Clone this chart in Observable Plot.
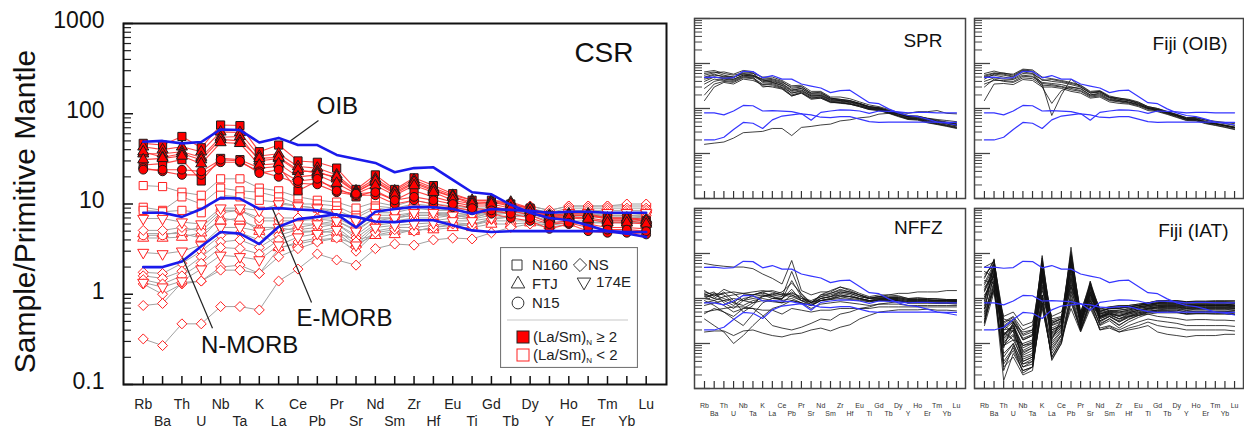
<!DOCTYPE html>
<html><head><meta charset="utf-8">
<script src="https://cdn.jsdelivr.net/npm/d3@7"></script>
<script src="https://cdn.jsdelivr.net/npm/@observablehq/plot@0.6"></script>
<style>
body{margin:0;background:#fff;font-family:"Liberation Sans",Arial,sans-serif;}
#wrap{position:relative;width:1244px;height:433px;overflow:hidden;background:#fff;}
#wrap > svg, #wrap > div{position:absolute;}
</style></head><body><div id="wrap"></div>
<script>
// ---------- DATA ----------
const elements = ["Rb","Ba","Th","U","Nb","Ta","K","La","Ce","Pb","Pr","Sr","Nd","Sm","Zr","Hf","Eu","Ti","Gd","Tb","Dy","Y","Ho","Er","Tm","Yb","Lu"];
const yTickValues = [0.1, 1, 10, 100, 1000];
const yTickLabels = ["0.1", "1", "10", "100", "1000"];

// reference patterns (primitive-mantle normalised)
const oib   = [49,50,47,48.6,67,66,48,54,45,45,35,31.5,28.5,22.5,25,25.5,18.5,13.5,12.8,9.8,8.0,7.0,6.6,5.8,5.0,4.7,4.3];
const emorb = [8.0,8.0,7.2,8.8,11.7,11.5,8.8,9.0,8.7,8.5,7.6,7.2,6.4,6.3,6.6,6.6,5.8,5.1,4.9,5.0,5.0,5.0,5.0,5.0,5.0,4.9,4.9];
const nmorb = [2.0,2.0,2.3,3.4,4.9,4.7,3.6,5.6,6.8,7.2,7.7,5.5,8.2,8.8,9.3,9.2,8.8,7.8,8.8,8.6,8.4,8.0,8.2,8.2,8.0,8.0,8.0];

// CSR samples, (La/Sm)N >= 2
const csrHigh = [
 {site:"N160", v:[47,45,56,42,75,74,38,45,30,29,25,14.5,21,14.5,19.5,16,13,11,11,10,9,7.5,7.5,7.5,7,7,6.5]},
 {site:"FTJ",  v:[43,40,43,38,63,62,34,36,26,25,21,14,19,14,18.5,15,12.5,11,11,10.5,9,7.5,7.8,7.8,7,7,6.8]},
 {site:"FTJ",  v:[36,36,38,33,55,56,30,32,23,23,19,13.5,17.5,13,17,14,12,10,10.5,9.5,8.5,7,7.2,7,6.5,6.5,6.2]},
 {site:"FTJ",  v:[38,33,36,31,52,50,32,33,24,22,20,13.5,18,13.5,17.5,14.5,12,10.5,10.5,10,8.8,7.2,7.5,7.5,6.8,6.8,6.5]},
 {site:"FTJ",  v:[31,32,34,28,48,47,27,28,20,21,17,13,16,12.5,16,13.5,11,10,10,9,8,6.8,7,6.8,6.2,6.2,6]},
 {site:"N160", v:[27,28,31,18,32,31,25,26,14,18,15,12,14,11,14,12,10.5,9.5,9.5,8.5,7.5,6.2,6.5,6,5.5,5.5,5.3]},
 {site:"N15",  v:[25,23,21,21,29,29,23,20,17,16.5,13.5,12.5,12.5,10,11,10,9.2,8.5,7.8,7,6.5,5.3,6,5,4.8,4.8,4.6]},
 {site:"N15",  v:[24,24,24,23,31,30,22,24,18,19,14,13,13.5,11,12,11,10,9,8.5,7.8,7,6,6.2,5.5,5.2,5.2,5]}
];
// CSR samples, (La/Sm)N < 2
const csrLow = [
 {site:"N160", v:[16,15.6,13.5,12.5,19,19,15,14,12,11,10.5,9,10.5,9.5,11,10,9.5,9,9,8.5,8.5,7.5,7.8,7.8,7.5,7.5,7.2]},
 {site:"N160", v:[9.2,8.5,12,10,15,14,13.5,12,10,10,9.5,7.5,9.5,9,10,9.5,9,8.5,8.5,8.5,8.5,7.2,7.5,7.5,7.2,7.2,7]},
 {site:"N160", v:[8.5,8.2,8.5,8,12.5,12,11,10.5,9.5,9,8.5,7,9,8.5,9.5,9,8.5,8,8,8,8,7,7.2,7.2,7,7,6.8]},
 {site:"174E", v:[6.9,6.9,6.3,6,9,9,8.5,10,9.5,9,8,6.5,8,8,9,8.5,8.5,8,8.5,8.5,8.5,7.5,8,8,8,8,7.8]},
 {site:"NS",   v:[5.1,5.1,5.5,5,8,8.5,7,7,7,7,7,5.5,7.5,7.5,8,8,8,7.5,8.5,9,9.5,8.5,9.5,9.5,9.5,9.5,9.5]},
 {site:"FTJ",  v:[4.7,4.7,4.7,4.2,7,6.5,5.5,5.5,5,5,4.8,4,4.5,5,5,5.5,5.8,5.8,6.5,6.5,6.5,6,6.5,6.5,6.5,6.5,6.5]},
 {site:"174E", v:[2.9,2.8,3.0,3.5,5.5,5.5,5,5.5,6,6,6.5,5,7,7,8,8,7.5,7.5,8,8,8.5,7.5,8,8,8,8,7.5]},
 {site:"NS",   v:[1.75,1.7,2.2,3.0,4.5,4.8,4,5,5.5,6,6,4.5,6.5,7,7.5,7.5,8,7.5,8.5,9,9.5,8.5,9.5,9.5,9.5,10,10]},
 {site:"NS",   v:[1.6,1.5,1.8,2.6,3.8,4,3.3,4.5,5.2,5.5,6,4.2,6,6.5,7,7,7.5,7,8,8.5,9,8,9,9,9,9,9]},
 {site:"NS",   v:[1.45,1.3,1.6,2.2,3.3,3.2,2.8,4,4.8,5,5.5,3.8,5.8,6.2,6.5,6.5,7,6.8,7.5,8,8.5,7.5,8.5,8.5,8.5,8.5,8.5]},
 {site:"174E", v:[1.35,1.2,1.4,1.9,2.7,2.6,2.4,3.5,4.3,4.7,5.2,3.5,5.5,5.8,6,6.2,6.5,6.5,7,7.5,8,7,8,8,8,8,8]},
 {site:"NS",   v:[1.3,1.0,1.3,1.4,2.0,2.1,1.7,3.2,3.8,4.2,4.8,3.3,5,5.5,5.5,5.8,6.2,6,6.8,7.2,7.5,6.5,7.5,7.5,7.5,7.5,7.5]},
 {site:"NS",   v:[0.32,0.27,0.47,0.47,0.73,0.73,0.67,1.4,1.9,2.8,2.4,2.1,3.2,3.6,3.5,4.0,4.2,4.1,4.8,5.5,6,5.5,6,6.2,6.2,6.2,6.2]},
 {site:"NS",   v:[0.75,0.79,1.35,1.4,1.85,1.85,1.7,2.6,3.2,3.8,4.2,3.0,4.8,5.2,5,5.5,6,5.8,6.8,7.2,7.8,6.8,7.8,8,8,8,8]},
 {site:"FTJ",  v:[4.2,4.2,4.3,4.8,6.5,7,5,3.3,3.6,4,4.2,3.6,4.5,4.6,5.2,5.2,5.5,5.5,6,6,6.2,5.8,6.2,6.2,6.2,6.2,6.2]},
 {site:"N15",  v:[4.5,4.5,5,5.5,8.5,8.5,6.5,6.5,6.5,6.8,6.5,5.2,7,7,7.5,7.5,7.5,7,8,8,8,7,7.5,7.5,7.5,7.5,7.2]}
];

// comparison fields
const spr = [
 [65,70,60,55,62,60,50,50,42,32,33,24,24,18,18,16.5,14,12,11,9.5,8.2,7,6.8,6,5.5,5,4.6],
 [55,62,65,58,70,66,48,46,40,28,30,22,22,17,16,15,13,11,10.5,9,7.8,6.6,6.5,5.7,5.2,4.8,4.4],
 [48,55,52,50,60,55,42,42,36,26,28,20,20,16,15,14,12.5,10.5,10,8.6,7.4,6.3,6.2,5.4,5,4.6,4.2],
 [40,50,48,45,55,52,40,38,33,24,26,19,19,15,14.5,13.5,12,10,9.5,8.2,7,6,5.9,5.1,4.7,4.3,3.9],
 [35,45,42,40,50,48,35,36,30,22,24,18,18,14.5,14,13,11.5,9.8,9.2,8,6.8,5.8,5.7,4.9,4.5,4.1,3.7],
 [15,30,38,35,45,42,34,34,29,20,23,17,17,14,13,12.5,11,9.5,9,7.8,6.6,5.7,5.5,4.8,4.4,4,3.6],
 [28,40,45,42,52,50,30,32,28,19,22,16,17,13.5,13.5,12.5,11,9.5,9.2,8,6.9,5.9,5.8,5.1,4.6,4.2,3.8],
 [60,65,55,50,58,55,45,44,38,30,31,22,23,17,16,15,13,11,10.2,8.8,7.6,6.5,6.4,5.6,5.1,4.7,4.3],
 [50,58,50,48,66,62,38,40,35,25,28,21,21,16.5,15.5,14.5,12.8,11,10.4,9,7.8,6.7,6.6,5.9,5.3,4.9,4.5],
 [20,35,40,38,48,46,32,30,27,19,22,17,18,14,13.5,12.5,11.5,10,9.8,8.6,7.6,6.6,6.7,6.1,5.7,5.4,5.1],
 [45,50,46,44,55,53,44,38,32,22,25,19,19.5,15.5,15,14,12.5,10.5,9.8,8.4,7.2,6.1,6,5.3,4.9,4.5,4.1],
 [1.6,1.7,1.8,2.2,2.9,3.0,3.1,3.6,3.6,2.5,3.8,4.0,4.3,4.5,5.3,5.6,6.2,6.5,7.5,7.8,8.2,7.8,8.5,8.5,9.0,7.8,7.6]
];
const fijiOib = [
 [55,62,58,52,70,65,35,7,20,45,30,22,24,18,16,15,13,10.5,9.5,8,7,5.8,5.8,5,4.6,4.2,3.8],
 [45,58,55,50,65,60,30,13,25,30,28,20,22,17,15,14,12.5,10,9,7.8,6.8,5.7,5.6,4.9,4.5,4.1,3.7],
 [60,68,60,58,75,72,50,46,42,38,33,24,25,19,17,16,14,11,10,8.5,7.2,6,6,5.2,4.7,4.3,3.9],
 [50,55,50,46,60,58,44,40,38,34,30,22,23,17.5,16,15,13,10.5,9.5,8.2,7,5.9,5.8,5,4.6,4.2,3.8],
 [40,48,45,44,55,52,38,36,34,30,27,20,21,16,15,14,12,10,9.2,8,6.8,5.8,5.7,4.9,4.5,4.1,3.7],
 [30,45,40,38,48,46,33,32,30,26,24,18,19,15,14,13,11.5,9.5,8.8,7.6,6.5,5.5,5.4,4.7,4.3,3.9,3.5],
 [15,35,36,34,44,42,30,30,28,24,22,17,18,14,13,12.5,11,9,8.5,7.4,6.3,5.4,5.3,4.6,4.2,3.8,3.4],
 [52,60,62,55,72,68,42,44,40,36,32,23,24,18,17,15.5,13.5,11,10,8.6,7.4,6.2,6.2,5.5,5,4.6,4.2],
 [35,42,42,40,52,50,36,34,31,28,25,19,20,15.5,14.5,13.5,12,10,9.5,8.4,7.3,6.3,6.3,5.6,5.2,4.9,4.6]
];
const nffz = [
 [60,55,52,50,50,46,35,28,21,70,15,12,14,14,18,16,13,11,12,12,11.5,10,10.5,10,10,9.5,9.5],
 [14,12,10,8,12,12,13,12,11,40,12,8,12,13,15,14,12,10,11,11,11,10,10,10,9.5,9.5,9.5],
 [12,14,8,6,9,10,11,12,14,22,13,8,12,15,18,15,12,10.5,11,10.5,10.5,9.5,9.5,9.5,9,9,9],
 [15,11,16,13,9,12,14,11,10,14,10,9,11,12,14,13,11,10,10,10,10,9,9,9,9,9,8.5],
 [10,13,12,8,7,9,10,9,8,12,9,7.5,10,11,13,12,10,9,9.5,9.5,9.5,8.5,8.5,8.5,8.5,8.5,8.5],
 [8,9,7,5,6,8,11,13,12,11,9,8.5,9,10,11,11,10,9,9,9,9,8,8,8,8,8,8],
 [4.6,6,5,3.5,2.5,4.5,8,10,10,16,9,7,9,10,12,11,10,9,10,10,10,9,9,9,9,9,9],
 [12,10,9,7,10,11,12,11,9,10,8,7,9,9.5,11,10,9.5,8.5,9,9,9,8,8,8,7.8,7.8,7.5],
 [9,7,5,4,6,6,4.2,2.5,2.2,2.0,2.3,2.8,3.5,3.3,4.5,5,6,6.5,7.5,8,8.5,8,8.5,8.5,8.5,8.5,8.5],
 [1.8,1.9,1.9,1.5,1.9,2.0,1.7,1.5,1.4,1.6,1.7,2.0,2.2,1.9,2.3,2.6,3.5,4.2,5,5.3,5.6,5.6,5.6,5.8,5.5,5.5,5.3],
 [3.5,2.5,1.8,1.0,1.5,2.5,4,6,7,9,8,7,9,9.5,10,9.5,9,8.5,9,9,9,8,8,8,8,8,8],
 [10,9,11,12,13,14,15,14,12,13,11,8,11,13,16,14,12,10,11,12,13,13,14,14,14,15,15],
 [11,12,13,14,13,12,14,15,13,12,10,8,10,11,12,11,10,9,9.5,9.5,9.5,8.5,8.5,8.5,8,8,8],
 [7,8,9,10,9,8,9,8.5,8,9,8,6,7.5,8,8.5,8,7.5,7,7.5,7.5,7.5,7,7,7,7,7,7],
 [5,5.5,6,6.5,6.5,6,5.5,5.5,4.5,6,5.5,5,5.5,5.5,6,6,6,6,6.5,6.5,6.5,6.5,6.5,6.5,6.5,6.5,6.5],
 [13,10,14,9,5,7,12,10,9.5,25,11,7,10,11,14,13,11,10,10.5,10.5,10.5,9.5,9.5,9.5,9,9,9]
];
const fijiIat = [
 [30,70,2.0,3.0,1.2,1.5,60,2.5,3.0,100,4.0,20,5.0,6.0,6.0,6.5,7.0,7.5,8.0,8.0,8.0,7.5,7.5,7.5,7.5,7.5,7.0],
 [8,76,1.5,2.5,0.8,1.0,90,2.0,2.5,138,3.5,14,4.5,5.5,5.0,5.5,6.5,7.0,7.5,7.5,7.5,7.0,7.0,7.0,7.0,7.0,6.8],
 [40,30,1.2,2.0,0.6,0.8,20,1.5,2.2,60,3.0,22,4.0,5.0,4.5,5.0,6.0,6.5,7.0,7.0,7.0,6.5,6.8,6.8,6.8,6.8,6.5],
 [3,40,2.5,1.8,0.5,0.6,45,1.2,3.5,40,2.8,12,3.8,4.8,4.0,4.8,5.5,6.0,6.5,6.5,6.5,6.0,6.2,6.2,6.2,6.2,6.0],
 [25,22,2.5,3.5,1.5,1.8,12,3.0,3.5,25,4.5,10,5.5,6.0,6.5,6.5,7.0,8.0,8.5,8.5,8.5,8.0,8.0,8.0,8.0,8.0,7.8],
 [5,60,0.5,1.0,0.3,0.4,70,0.8,1.5,90,2.2,24,3.0,4.0,3.0,4.0,4.8,5.5,6.0,6.0,6.0,5.5,5.8,5.8,5.8,5.8,5.5],
 [3,18,0.15,0.6,0.25,0.3,8,0.5,1.2,10,2.0,8,2.8,3.5,2.5,3.5,4.2,5.0,5.5,5.5,5.5,5.0,5.2,5.2,5.2,5.2,5.0],
 [15,45,3.0,4.0,2.0,2.5,50,3.5,4.0,18,5.0,18,6.0,6.5,7.0,7.0,7.5,8.0,9.0,9.0,9.0,8.5,8.5,8.5,8.5,8.5,8.5],
 [10,35,1.3,2.2,0.7,0.9,35,1.8,2.6,30,3.2,14,4.2,5.0,4.8,5.2,6.0,6.5,7.0,7.2,7.2,6.8,7.0,7.0,7.0,7.0,6.8],
 [18,30,0.8,3.0,0.4,0.5,8,1.0,1.8,50,2.5,11,3.5,4.5,3.5,4.5,5.0,5.8,6.2,6.2,6.2,5.8,6.0,6.0,6.0,6.0,5.8],
 [6,55,1.8,1.2,1.0,1.2,28,2.2,2.8,70,3.8,20,4.8,5.5,5.5,6.0,6.5,7.0,7.8,7.8,7.8,7.2,7.5,7.5,7.5,7.5,7.2],
 [4,20,0.3,0.5,0.2,0.25,10,0.45,1.0,8,2.0,9,2.5,3.2,2.2,3.0,3.8,4.5,4.8,4.8,4.8,4.5,4.6,4.6,4.6,4.6,4.4],
 [2.5,14,0.4,0.8,0.3,0.35,6,0.6,1.3,6,1.8,6,2.2,2.5,2.0,2.5,3.0,3.5,3.2,3.0,2.8,2.5,2.5,2.5,2.5,2.5,2.4],
 [3.5,16,0.6,1.0,0.35,0.45,12,0.7,1.5,12,2.0,8,2.0,2.2,1.8,2.0,2.2,2.5,1.8,1.6,1.5,1.4,1.5,1.5,1.5,1.6,1.6],
 [50,65,3.5,3.0,1.2,1.5,80,2.8,3.5,110,4.5,24,5.2,6.0,6.0,6.5,7.0,7.5,8.0,8.2,8.2,7.8,8.0,8.0,8.0,8.0,7.8],
 [14,42,1.1,1.6,0.55,0.7,28,1.4,2.2,35,3.0,13,3.8,4.5,4.0,4.5,5.2,5.8,6.2,6.4,6.4,6.0,6.2,6.2,6.2,6.2,6.0],
 [7,28,0.9,1.2,0.45,0.55,18,1.1,1.9,18,2.6,10,3.2,4.0,3.2,4.0,4.5,5.0,5.2,5.2,5.0,4.5,4.6,4.6,4.5,4.5,4.4],
 [22,60,2.2,3.2,1.3,1.6,45,2.6,3.2,55,4.2,17,5.2,6.0,6.2,6.5,7.0,7.5,8.0,8.5,8.8,8.5,8.8,8.8,9.0,9.0,9.0],
 [9,38,1.0,2.0,0.4,0.5,25,1.3,2.0,22,2.8,12,3.6,4.2,3.6,4.2,4.8,5.2,5.5,5.5,5.5,5.0,5.2,5.2,5.2,5.2,5.0],
 [2.8,22,0.35,0.7,0.25,0.3,7,0.5,1.1,9,1.9,7,2.0,2.4,1.8,2.2,2.5,3.0,2.5,2.3,2.2,2.0,2.0,2.0,2.0,2.0,1.9],
 [16,48,1.6,2.6,0.9,1.1,38,2.0,2.6,45,3.5,16,4.5,5.2,5.0,5.5,6.2,6.8,7.2,7.2,7.2,6.8,7.0,7.0,7.0,7.0,6.8],
 [28,72,2.8,3.8,1.6,2.0,65,3.2,3.8,90,5.0,21,5.8,6.5,6.8,7.0,7.5,8.0,8.8,8.8,8.8,8.2,8.5,8.5,8.5,8.5,8.2],
 [4.5,24,0.25,0.9,0.22,0.3,12,0.42,1.0,14,2.2,9,2.6,3.6,2.6,3.4,4.2,4.8,5.2,5.2,5.0,4.6,4.8,4.8,4.8,4.8,4.6],
 [11,33,1.4,2.4,0.65,0.8,32,1.7,2.4,28,3.2,13,4.0,4.8,4.2,4.8,5.5,6.2,6.6,6.6,6.6,6.2,6.4,6.4,6.4,6.4,6.2],
 [12,25,4,5,2.5,3,15,4,5,20,5,9,4,4.5,3.5,4,4.2,4.5,4,3.8,3.6,3.3,3.4,3.4,3.3,3.3,3.2],
 [20,50,0.9,1.5,0.35,0.4,40,0.9,1.6,65,2.4,18,3.2,4.0,3.0,3.8,4.5,5.2,5.6,5.8,5.8,5.4,5.6,5.6,5.6,5.6,5.4],
 [6,15,1.5,2.8,1.8,2.0,10,2.8,3.6,15,4.0,7,4.5,5.2,5.5,5.8,6.5,7.0,7.6,7.6,7.6,7.2,7.4,7.4,7.4,7.4,7.2],
 [35,55,2.0,2.2,0.9,1.0,55,1.6,2.4,75,3.2,15,3.8,4.6,4.2,4.8,5.5,6.0,6.5,6.8,6.8,6.4,6.6,6.6,6.6,6.6,6.4]
];

// annotation placement (element index, normalised value)
const labelSpots = [{t:"OIB", x:10.04, y:120}, {t:"E-MORB", x:10.4, y:0.54}, {t:"N-MORB", x:5.5, y:0.27}];
const leaderSpots = [
 {x1:9.06, y1:84, x2:7.6, y2:50},
 {x1:8.7, y1:0.81, x2:6.68, y2:8.9},
 {x1:3.58, y1:0.42, x2:2.03, y2:2.55}
];

// ---------- HELPERS ----------
const FONT = "Liberation Sans, Arial, Helvetica, sans-serif";
const idx = d3.range(elements.length);
function toRows(list, prefix) {
  const out = [];
  list.forEach((s, k) => {
    const vals = Array.isArray(s) ? s : s.v;
    vals.forEach((v, i) => { if (v != null) out.push({id: prefix + k, site: s.site, i, v}); });
  });
  return out;
}
const sqrt3 = Math.sqrt(3);
const triDown = {draw(ctx, size) {
  const y = -Math.sqrt(size / (sqrt3 * 3));
  ctx.moveTo(0, -y * 2); ctx.lineTo(-sqrt3 * y, y); ctx.lineTo(sqrt3 * y, y); ctx.closePath();
}};
const siteSymbol = {N160: d3.symbolSquare, FTJ: d3.symbolTriangle, N15: d3.symbolCircle, NS: d3.symbolDiamond2, "174E": triDown};
const siteR = {N160: 4.6, FTJ: 4.1, N15: 4.4, NS: 4.5, "174E": 4.1};
const minorTicks = d3.range(-1, 3).flatMap(e => d3.range(2, 10).map(m => m * Math.pow(10, e)));

const refRows = toRows([oib, emorb, nmorb], "ref");
const highRows = toRows(csrHigh, "h");
const lowRows = toRows(csrLow, "l");

const wrap = document.getElementById("wrap");

// ---------- MAIN PANEL ----------
const mainW = 680, mainH = 433, mL = 123, mR = 14, mT = 23, mB = 49;
const fW = mainW - mL - mR, fH = mainH - mT - mB;
const main = Plot.plot({
  width: mainW, height: mainH,
  marginLeft: mL, marginRight: mR, marginTop: mT, marginBottom: mB,
  x: {domain: [-1.02, 27.05], axis: null},
  y: {type: "log", domain: [0.1, 1000], axis: null},
  style: {fontFamily: FONT, background: "transparent", overflow: "visible"},
  marks: [
    Plot.line(lowRows, {x: "i", y: "v", z: "id", stroke: "#a2a2a2", strokeWidth: 1}),
    Plot.line(highRows, {x: "i", y: "v", z: "id", stroke: "#ff3030", strokeWidth: 1.1, strokeOpacity: 0.9}),
    ...Object.keys(siteSymbol).map(s => Plot.dot(lowRows.filter(d => d.site === s), {x: "i", y: "v", symbol: siteSymbol[s], r: siteR[s], fill: "white", stroke: "#ff2020", strokeWidth: 1})),
    ...Object.keys(siteSymbol).map(s => Plot.dot(highRows.filter(d => d.site === s), {x: "i", y: "v", symbol: siteSymbol[s], r: siteR[s], fill: "#ff0000", stroke: "#1a1a1a", strokeWidth: 1})),
    Plot.line(refRows, {x: "i", y: "v", z: "id", stroke: "#1a1aeb", strokeWidth: 2.6}),
    Plot.link(leaderSpots, {x1: "x1", y1: "y1", x2: "x2", y2: "y2", stroke: "#222", strokeWidth: 1.2}),
    Plot.text(labelSpots, {x: "x", y: "y", text: "t", fontSize: 24, fill: "#111", lineAnchor: "middle"}),
    Plot.text(["CSR"], {frameAnchor: "top-right", dx: -33, dy: 29.5, textAnchor: "end", lineAnchor: "middle", fontSize: 28, fill: "#111"}),
    Plot.tickY(minorTicks, {y: d => d, insetRight: fW - 8, stroke: "#222", strokeWidth: 1.2}),
    Plot.tickY(yTickValues, {y: d => d, insetRight: fW - 10, stroke: "#111", strokeWidth: 1.5}),
    Plot.tickX(idx, {x: d => d, insetTop: fH - 8, stroke: "#111", strokeWidth: 1.5}),
    Plot.frame({stroke: "#111", strokeWidth: 2}),
    Plot.text(yTickValues, {y: d => d, text: (d, i) => yTickLabels[i], frameAnchor: "left", textAnchor: "end", lineAnchor: "middle", dx: -19, dy: -3, fontSize: 23, fill: "#111"}),
    Plot.text(idx, {filter: i => i % 2 === 0, x: d => d, text: i => elements[i], frameAnchor: "bottom", lineAnchor: "middle", textAnchor: "middle", dy: 20.5, fontSize: 14, fill: "#222"}),
    Plot.text(idx, {filter: i => i % 2 === 1, x: d => d, text: i => elements[i], frameAnchor: "bottom", lineAnchor: "middle", textAnchor: "middle", dy: 37.5, fontSize: 14, fill: "#222"}),
    Plot.text(["Sample/Primitive Mantle"], {frameAnchor: "left", textAnchor: "middle", lineAnchor: "middle", rotate: -90, dx: -98, dy: 7.5, fontSize: 30, fill: "#111"})
  ]
});
main.style.left = "0px"; main.style.top = "0px";
wrap.appendChild(main);

// ---------- LEGEND ----------
const leg = d3.create("svg").attr("width", 138).attr("height", 121)
  .style("left", "500px").style("top", "247px").style("font-family", FONT);
leg.append("rect").attr("x", 0.5).attr("y", 0.5).attr("width", 137).attr("height", 120).attr("fill", "white").attr("stroke", "#777").attr("stroke-width", 1.2);
const legItems = [
  {sym: d3.symbolSquare, size: 100, cx: 17, cy: 18, label: "N160", tx: 32},
  {sym: d3.symbolDiamond2, size: 110, cx: 80, cy: 18, label: "NS", tx: 88},
  {sym: d3.symbolTriangle, size: 80, cx: 18, cy: 37, label: "FTJ", tx: 32},
  {sym: triDown, size: 80, cx: 84, cy: 35, label: "174E", tx: 96},
  {sym: d3.symbolCircle, size: 110, cx: 18, cy: 56, label: "N15", tx: 32}
];
legItems.forEach(it => {
  leg.append("path").attr("d", d3.symbol(it.sym, it.size)()).attr("transform", `translate(${it.cx},${it.cy})`)
    .attr("fill", "none").attr("stroke", "#333").attr("stroke-width", 1);
  leg.append("text").attr("x", it.tx).attr("y", it.cy + 5).attr("font-size", 15).attr("fill", "#222").text(it.label);
});
leg.append("line").attr("x1", 7).attr("x2", 128).attr("y1", 73).attr("y2", 73).attr("stroke", "#c8c8c8").attr("stroke-width", 1.2);
[{fill: "#ff0000", stroke: "#222", cy: 90, rel: " ≥ 2"}, {fill: "white", stroke: "#ff2020", cy: 108, rel: " < 2"}].forEach(it => {
  leg.append("rect").attr("x", 17).attr("y", it.cy - 6).attr("width", 12).attr("height", 12).attr("fill", it.fill).attr("stroke", it.stroke).attr("stroke-width", 1);
  const t = leg.append("text").attr("x", 33).attr("y", it.cy + 5).attr("font-size", 15).attr("fill", "#222");
  t.append("tspan").text("(La/Sm)");
  t.append("tspan").attr("font-size", 8).attr("dy", 3).text("N");
  t.append("tspan").attr("dy", -3).text(it.rel);
});
wrap.appendChild(leg.node());

// ---------- SMALL PANELS ----------
const panels = [
  {name: "SPR", data: spr, left: 694, top: 18, w: 271, labels: false, dx: -23, dy: 22.5},
  {name: "Fiji (OIB)", data: fijiOib, left: 974, top: 18, w: 269, labels: false, dx: -16, dy: 25},
  {name: "NFFZ", data: nffz, left: 694, top: 208, w: 271, labels: true, dx: -23, dy: 19},
  {name: "Fiji (IAT)", data: fijiIat, left: 974, top: 208, w: 269, labels: true, dx: -15, dy: 22}
];
panels.forEach(p => {
  const fh = 180, pad = 10, mb = p.labels ? 36 : pad;
  const rows = toRows(p.data, "s");
  const svg = Plot.plot({
    width: p.w + 2 * pad, height: fh + pad + mb,
    marginLeft: pad, marginRight: pad, marginTop: pad, marginBottom: mb,
    x: {domain: [-1.032, 26.93], axis: null},
    y: {type: "log", domain: [0.1, 1000], axis: null},
    style: {fontFamily: FONT, background: "transparent", overflow: "visible"},
    marks: [
      Plot.line(rows, {x: "i", y: "v", z: "id", stroke: "#111", strokeWidth: 1, strokeOpacity: 0.8}),
      Plot.line(refRows, {x: "i", y: "v", z: "id", stroke: "#3535ff", strokeWidth: 1.2}),
      Plot.tickY(minorTicks, {y: d => d, insetRight: p.w - 8, stroke: "#444", strokeWidth: 1}),
      Plot.tickY(yTickValues, {y: d => d, insetRight: p.w - 16, stroke: "#444", strokeWidth: 1.3}),
      Plot.tickX(idx, {x: d => d, insetTop: fh - 7, stroke: "#333", strokeWidth: 1.2}),
      Plot.frame({stroke: "#444", strokeWidth: 1.5}),
      Plot.text([p.name], {frameAnchor: "top-right", dx: p.dx, dy: p.dy, textAnchor: "end", lineAnchor: "middle", fontSize: 19, fill: "#111"}),
      ...(p.labels ? [
        Plot.text(idx, {filter: i => i % 2 === 0, x: d => d, text: i => elements[i], frameAnchor: "bottom", lineAnchor: "middle", textAnchor: "middle", dy: 17, fontSize: 7, fill: "#333"}),
        Plot.text(idx, {filter: i => i % 2 === 1, x: d => d, text: i => elements[i], frameAnchor: "bottom", lineAnchor: "middle", textAnchor: "middle", dy: 25, fontSize: 7, fill: "#333"})
      ] : [])
    ]
  });
  svg.style.left = (p.left - pad) + "px";
  svg.style.top = (p.top - pad) + "px";
  wrap.appendChild(svg);
});
</script></body></html>
